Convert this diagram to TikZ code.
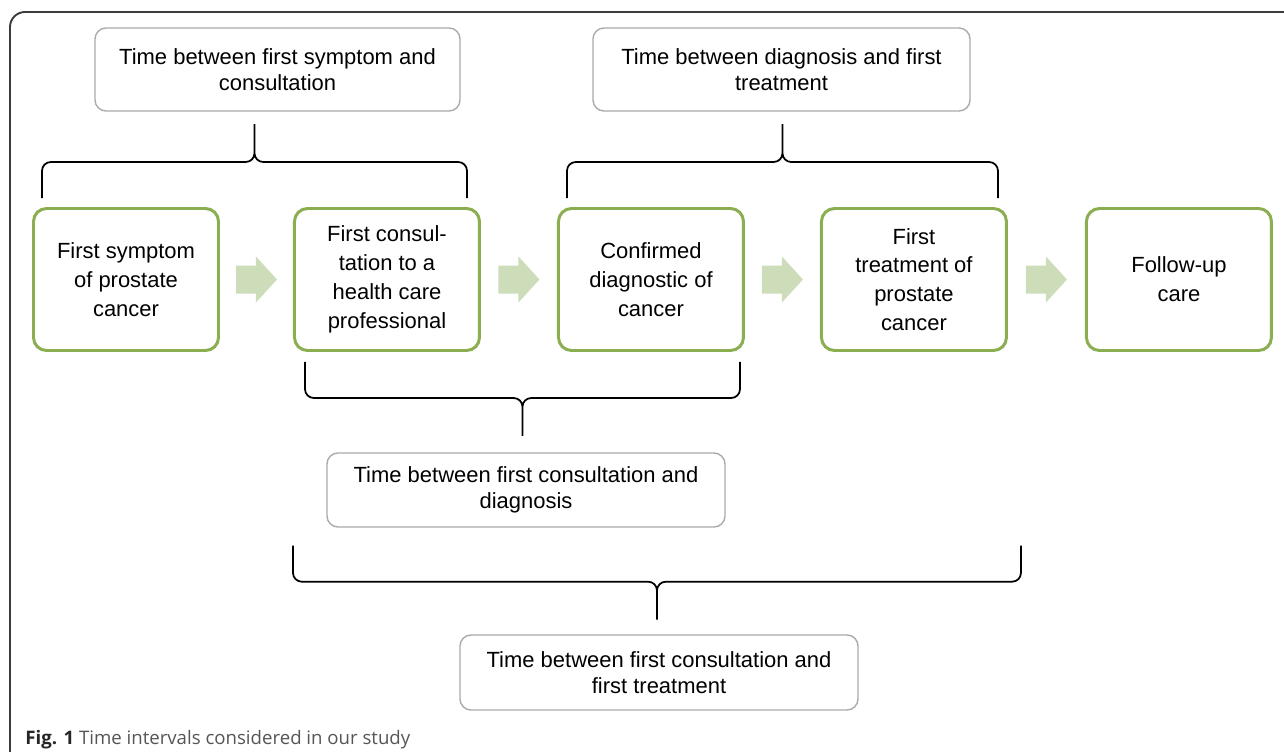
\documentclass[tikz,border=0pt]{standalone}
\usepackage{fontspec}
\setmainfont{Liberation Sans}
\newfontfamily\capfont{Open Sans}
\usetikzlibrary{positioning,calc}
\definecolor{stagegreen}{RGB}{138,174,80}
\definecolor{arrowgreen}{RGB}{205,221,185}
\definecolor{spangray}{RGB}{170,170,170}
\definecolor{framegray}{RGB}{60,60,60}
\definecolor{capgray}{RGB}{85,85,85}

\begin{document}
\begin{tikzpicture}[stage/.style={draw=stagegreen,line width=1.7pt,rounded corners=0.26cm,
    minimum width=3.7cm,minimum height=2.84cm,align=center,
    font=\fontsize{12.5}{16.4}\selectfont},
  span/.style={draw=spangray,line width=0.8pt,rounded corners=0.22cm,
    minimum height=1.66cm,align=center,font=\fontsize{12.5}{14.7}\selectfont},
  brc/.style={line width=1pt,rounded corners=5pt}]
 \useasboundingbox (0,0) rectangle (25.68,-15.04);
 \begin{scope}
  \clip (0,0) rectangle (25.68,-15.04);
  \draw[framegray,line width=1.1pt,rounded corners=0.3cm] (0.2,-0.24) rectangle (26.5,-16);
 \end{scope}
 \node[stage] (b1) at (2.52,-5.59) {First symptom\\of prostate\\cancer};
 \node[stage,right=1.46cm of b1] (b2) {First consul-\\tation to a\\health care\\professional};
 \node[stage,right=1.52cm of b2] (b3) {Confirmed\\diagnostic of\\cancer};
 \node[stage,right=1.5cm of b3] (b4) {First\\treatment of\\prostate\\cancer};
 \node[stage,right=1.54cm of b4] (b5) {Follow-up\\care};
 \foreach \i/\j in {1/2,2/3,3/4,4/5}
  \fill[arrowgreen] ($(b\i.east)!0.5!(b\j.west)$) ++(-0.41,0.28) -- ++(0.4,0) -- ++(0,0.18)
   -- ++(0.42,-0.46) -- ++(-0.42,-0.46) -- ++(0,0.18) -- ++(-0.4,0) -- cycle;
 \node[span,minimum width=7.3cm] (t1) at (5.55,-1.39) {Time between first symptom and\\consultation};
 \node[span,minimum width=7.54cm] (t2) at (15.63,-1.39) {Time between diagnosis and first\\treatment};
 \node[span,minimum width=7.96cm,minimum height=1.48cm] (m1) at (10.52,-9.8)
  {Time between first consultation and\\diagnosis};
 \node[span,minimum width=7.96cm,minimum height=1.5cm] (f1) at (13.18,-13.45)
  {Time between first consultation and\\first treatment};
 \coordinate (aL) at ([shift={(0.2,0.18)}]b1.north west);
 \coordinate (aR) at ([shift={(-0.28,0.18)}]b2.north east);
 \coordinate (bL) at ([shift={(0.2,0.18)}]b3.north west);
 \coordinate (bR) at ([shift={(-0.2,0.18)}]b4.north east);
 \coordinate (cL) at ([shift={(0.24,-0.2)}]b2.south west);
 \coordinate (cR) at ([shift={(-0.1,-0.2)}]b3.south east);
 \coordinate (dL) at ([yshift=-0.36cm]m1.south -| b2.west);
 \coordinate (dR) at ([shift={(0.26,-0.36)}]m1.south -| b4.east);
 \foreach \x/\d in {a/1,b/1,c/-1,d/-1}
  \draw[brc] (\x L) |- ($(\x L)!0.5!(\x R)+(0,\d*0.72)$) coordinate (\x H) -- ++(0,\d*0.76)
   (\x R) |- (\x H) -- ++(0,\d*0.76);
 \node[anchor=base west,inner sep=0,text=capgray,font=\capfont\fontsize{10.6}{12}\selectfont] (cap)
  at (0.5,-14.88) {\textbf{\color{black!85}Fig. 1} Time intervals considered in our study};
\end{tikzpicture}
\end{document}
